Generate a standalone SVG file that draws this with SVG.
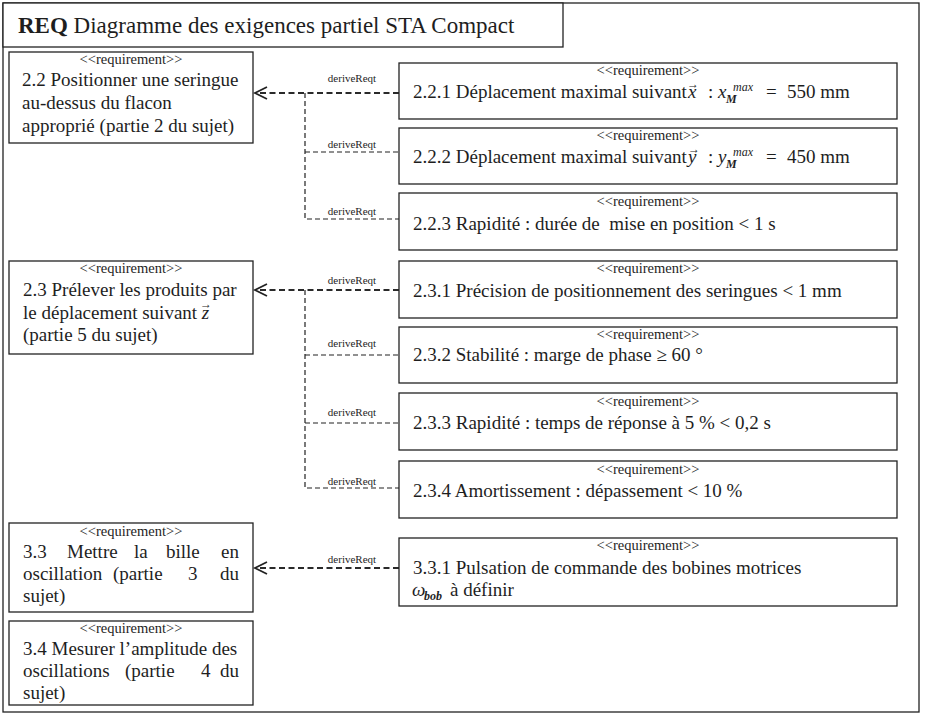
<svg xmlns="http://www.w3.org/2000/svg" width="926" height="718" viewBox="0 0 926 718">
<defs>
<style>
.frame{fill:#fff;stroke:#222;stroke-width:1.3}
.box{fill:#fff;stroke:#222;stroke-width:1.3}
text{font-family:"Liberation Serif","Times New Roman","DejaVu Serif",serif;fill:#1e1e1e}
.t{font-size:19px}
.st{font-size:14.5px;text-anchor:middle}
.lbl{font-size:11px;text-anchor:middle}
.i{font-style:italic}
.sup{font-size:12px;font-style:italic}
.sub{font-size:12px;font-style:italic;font-weight:bold}
.vec{font-size:12px}
.e{text-anchor:end}
.main{fill:none;stroke:#2a2a2a;stroke-width:1.8;stroke-dasharray:6 3.5}
.br{fill:none;stroke:#222;stroke-width:1.2;stroke-dasharray:5 3}
</style>
<marker id="open" markerWidth="16" markerHeight="16" refX="13" refY="7" orient="auto" markerUnits="userSpaceOnUse">
<path d="M1,1 L13,7 L1,13" fill="none" stroke="#222" stroke-width="1.8"/>
</marker>
</defs>
<rect x="0" y="0" width="926" height="718" fill="#fff"/>
<rect class="frame" x="3" y="3" width="916" height="709"/>
<g id="title">
<rect class="box" x="3" y="3" width="560" height="44"/>
<text x="18" y="33" style="font-size:23px"><tspan font-weight="bold">REQ</tspan> Diagramme des exigences partiel STA Compact</text>
</g>

<g id="connectors">
<path class="main" d="M399,93 H255" marker-end="url(#open)"/>
<path class="br" d="M305,93 V219 H399 M305,152 H399"/>
<text class="lbl" x="352" y="82">deriveReqt</text>
<text class="lbl" x="352" y="148">deriveReqt</text>
<text class="lbl" x="352" y="215">deriveReqt</text>

<path class="main" d="M399,290 H255" marker-end="url(#open)"/>
<path class="br" d="M305,290 V488 H399 M305,355 H399 M305,423 H399"/>
<text class="lbl" x="352" y="284">deriveReqt</text>
<text class="lbl" x="352" y="347">deriveReqt</text>
<text class="lbl" x="352" y="416">deriveReqt</text>
<text class="lbl" x="352" y="485">deriveReqt</text>

<path class="main" d="M399,568 H255" marker-end="url(#open)"/>
<text class="lbl" x="352" y="563">deriveReqt</text>
</g>

<g id="req-2-2">
<rect class="box" x="9" y="52" width="244" height="91"/>
<text class="st" x="131" y="64">&lt;&lt;requirement&gt;&gt;</text>
<text class="t" x="22" y="86">2.2 Positionner une seringue</text>
<text class="t" x="22" y="109">au-dessus du flacon</text>
<text class="t" x="22" y="132">approprié (partie 2 du sujet)</text>
</g>
<g id="req-2-3">
<rect class="box" x="9" y="261" width="244" height="93"/>
<text class="st" x="131" y="273">&lt;&lt;requirement&gt;&gt;</text>
<text class="t" x="23" y="296">2.3 Prélever les produits par</text>
<text class="t" x="23" y="319">le déplacement suivant <tspan class="i">z</tspan><tspan class="vec" x="200" y="308">→</tspan></text>
<text class="t" x="23" y="341">(partie 5 du sujet)</text>
</g>
<g id="req-3-3">
<rect class="box" x="9" y="523" width="244" height="89"/>
<text class="st" x="131" y="536">&lt;&lt;requirement&gt;&gt;</text>
<text class="t" y="558"><tspan x="23">3.3</tspan><tspan x="67">Mettre</tspan><tspan x="134">la</tspan><tspan x="166">bille</tspan></text>
<text class="t e" x="239" y="558">en</text>
<text class="t" y="580"><tspan x="23">oscillation</tspan><tspan x="113">(partie</tspan><tspan x="188">3</tspan></text>
<text class="t e" x="239" y="580">du</text>
<text class="t" x="23" y="602">sujet)</text>
</g>
<g id="req-3-4">
<rect class="box" x="9" y="621" width="244" height="84"/>
<text class="st" x="131" y="633">&lt;&lt;requirement&gt;&gt;</text>
<text class="t" x="23" y="655">3.4 Mesurer l’amplitude des</text>
<text class="t" y="677"><tspan x="23">oscillations</tspan><tspan x="125">(partie</tspan><tspan x="201">4</tspan></text>
<text class="t e" x="239" y="677">du</text>
<text class="t" x="23" y="699">sujet)</text>
</g>

<g id="req-2-2-1">
<rect class="box" x="399" y="63" width="498" height="56"/>
<text class="st" x="648" y="75">&lt;&lt;requirement&gt;&gt;</text>
<text class="t" x="413" y="98">2.2.1 Déplacement maximal suivant<tspan class="i" x="688" y="98">x</tspan><tspan class="vec" x="687" y="88">→</tspan><tspan x="708" y="98">:</tspan><tspan class="i" x="718" y="98">x</tspan><tspan class="sup" x="733" y="91">max</tspan><tspan class="sub" x="726" y="103">M</tspan><tspan x="766" y="98">=</tspan><tspan x="787" y="98">550 mm</tspan></text>
</g>
<g id="req-2-2-2">
<rect class="box" x="399" y="128" width="498" height="56"/>
<text class="st" x="648" y="140">&lt;&lt;requirement&gt;&gt;</text>
<text class="t" x="413" y="163">2.2.2 Déplacement maximal suivant<tspan class="i" x="688" y="163">y</tspan><tspan class="vec" x="688" y="153">→</tspan><tspan x="708" y="163">:</tspan><tspan class="i" x="718" y="163">y</tspan><tspan class="sup" x="733" y="156">max</tspan><tspan class="sub" x="726" y="168">M</tspan><tspan x="766" y="163">=</tspan><tspan x="787" y="163">450 mm</tspan></text>
</g>
<g id="req-2-2-3">
<rect class="box" x="399" y="193" width="498" height="57"/>
<text class="st" x="648" y="206">&lt;&lt;requirement&gt;&gt;</text>
<text class="t" x="413" y="230" xml:space="preserve">2.2.3 Rapidité : durée de  mise en position &lt; 1 s</text>
</g>
<g id="req-2-3-1">
<rect class="box" x="399" y="261" width="498" height="57"/>
<text class="st" x="648" y="273">&lt;&lt;requirement&gt;&gt;</text>
<text class="t" x="413" y="297">2.3.1 Précision de positionnement des seringues &lt; 1 mm</text>
</g>
<g id="req-2-3-2">
<rect class="box" x="399" y="327" width="498" height="56"/>
<text class="st" x="648" y="339">&lt;&lt;requirement&gt;&gt;</text>
<text class="t" x="413" y="361">2.3.2 Stabilité : marge de phase ≥ 60 °</text>
</g>
<g id="req-2-3-3">
<rect class="box" x="399" y="393" width="498" height="57"/>
<text class="st" x="648" y="406">&lt;&lt;requirement&gt;&gt;</text>
<text class="t" x="413" y="429">2.3.3 Rapidité : temps de réponse à 5 % &lt; 0,2 s</text>
</g>
<g id="req-2-3-4">
<rect class="box" x="399" y="461" width="498" height="57"/>
<text class="st" x="648" y="474">&lt;&lt;requirement&gt;&gt;</text>
<text class="t" x="413" y="497">2.3.4 Amortissement : dépassement &lt; 10 %</text>
</g>
<g id="req-3-3-1">
<rect class="box" x="399" y="538" width="498" height="68"/>
<text class="st" x="648" y="550">&lt;&lt;requirement&gt;&gt;</text>
<text class="t" x="413" y="574">3.3.1 Pulsation de commande des bobines motrices</text>
<text class="t" x="412" y="596"><tspan class="i">ω</tspan><tspan class="sub" x="424" y="600">bob</tspan><tspan x="450" y="596">à définir</tspan></text>
</g>
</svg>
